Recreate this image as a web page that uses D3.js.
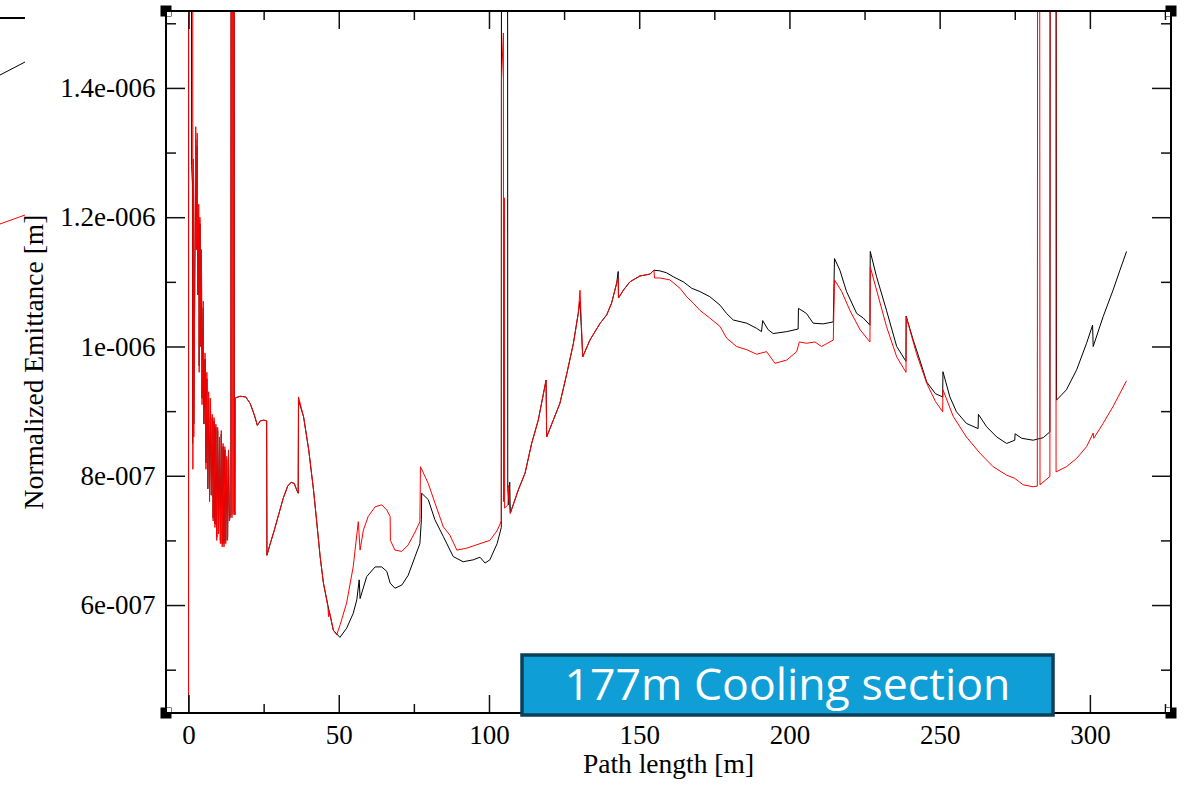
<!DOCTYPE html>
<html><head><meta charset="utf-8">
<script src="https://cdn.jsdelivr.net/npm/d3@7/dist/d3.min.js"></script>
<style>html,body{margin:0;padding:0;background:#fff}svg{display:block}</style>
</head><body><svg id="c" width="1191" height="786"></svg>
<script>
// ---------- data (y values in units of 1e-7 m) ----------
const xMajorTicks = [0, 50, 100, 150, 200, 250, 300];
const xMinorTicks = [25, 75, 125, 175, 225, 275, 325];
const yMajorTicks = [6, 8, 10, 12, 14];
const yTickLabels = ["6e-007", "8e-007", "1e-006", "1.2e-006", "1.4e-006"];
const yMinorTicks = [5, 7, 9, 11, 13, 15];
const xDomain = [-7.5, 327];
const yDomain = [4.33, 15.19];
const xTitle = "Path length [m]";
const yTitle = "Normalized Emittance [m]";
const annotation = "177m Cooling section";

const blackSeries = [
[0,4.0],[0.02,16],[1.0,16],[1.05,12.8],[1.3,12.5],[1.35,8.5],[1.6,12.6],[1.75,8.8],[2.4,13.2],[2.6,11.5],[2.9,13.1],[3.1,10.8],[3.4,12.0],[3.55,9.7],[3.8,11.9],[4.1,10.0],[4.3,11.4],[4.5,9.2],[4.9,10.6],[5.1,8.8],[5.5,9.8],[5.8,8.2],[6.1,9.5],[6.4,7.8],[6.7,9.2],[7.0,7.7],[7.3,9.1],[7.6,7.7],[7.9,8.9],[8.2,7.35],[8.5,8.85],[8.8,7.25],[9.1,8.75],[9.4,7.05],[9.7,8.7],[10.0,7.15],[10.3,8.55],[10.6,7.0],[10.9,8.65],[11.2,6.95],[11.5,8.45],[11.8,6.95],[12.1,8.4],[12.4,7.0],[12.7,8.25],[13.0,7.05],[13.3,8.35],[13.6,7.3],[13.9,7.4],[14.1,7.4],[14.15,16],[15.2,16],[15.25,7.45],[15.45,7.4],[15.5,9.2],
[17.1,9.23],[19.0,9.22],[20.5,9.12],[21.9,8.94],[22.9,8.78],[23.9,8.85],[25.0,8.86],[26.0,8.85],[26.1,6.77],[27.0,6.92],[28.5,7.15],[30.0,7.4],[31.5,7.65],[33.0,7.84],[34.2,7.9],[35.2,7.88],[36.0,7.78],[36.5,7.73],[36.6,9.17],[38.3,8.91],[40.0,8.40],[41.6,7.78],[42.7,7.27],[43.8,6.75],[44.9,6.34],[46.5,5.97],[48.2,5.61],[50.4,5.50],
[52.6,5.64],[54.8,5.87],[56.0,6.08],[56.8,6.39],[57.1,6.1],[59.3,6.44],[62.1,6.59],[64.3,6.59],[66.0,6.52],[67.1,6.34],[68.7,6.26],[71.0,6.31],[73.1,6.46],[75.4,6.75],[77.0,6.95],[77.5,7.32],[77.6,7.73],[79.8,7.63],[82.0,7.32],[84.8,7.06],[88.1,6.75],[91.4,6.67],[94.8,6.70],[97.0,6.74],[98.7,6.65],[100.3,6.7],[102.7,6.95],[104.1,7.2],
[104.15,16],[106.2,16],[106.25,7.8],[106.6,7.55],[106.9,7.9],[107.1,7.42],[109.75,7.78],[112.0,8.04],[114.2,8.5],[116.4,8.86],[119.0,9.48],[119.2,8.6],[121.4,8.86],[123.6,9.12],[125.9,9.58],[128.1,10.05],[129.7,10.51],[130.3,10.7],[131.2,9.84],[133.6,10.1],[137.0,10.36],[139.2,10.49],[140.8,10.67],[142.5,10.98],[143.0,11.16],[143.1,10.75],[144.7,10.87],[146.9,11.0],[150.2,11.09],[153.6,11.12],[154.9,11.18],
[156.9,11.17],[159.1,11.14],[161.3,11.08],[164.7,11.0],[167.5,10.9],[170.2,10.85],[173.5,10.77],[176.9,10.64],[179.1,10.51],[181.3,10.41],[185.8,10.36],[189.1,10.28],[190.7,10.23],[191.1,10.40],[192.9,10.26],[194.6,10.2],[199.1,10.23],[202.9,10.27],[203.0,10.59],[205.7,10.51],[207.9,10.36],[211.2,10.35],[214.6,10.38],
[215.0,11.36],[216.8,11.18],[219.0,10.85],[222.4,10.51],[224.6,10.44],[226.8,10.33],[226.9,11.47],[229.0,11.08],[232.3,10.56],[235.7,10.0],[238.8,9.77],[238.85,10.47],[241.2,10.1],[243.4,9.79],[245.7,9.45],[248.6,9.27],[251.0,9.22],[251.1,9.61],[253.4,9.22],[255.6,8.99],[258.9,8.81],[262.8,8.73],[262.9,8.95],[265.6,8.76],[269.0,8.6],[272.3,8.50],[275.0,8.55],[275.1,8.65],[277.3,8.58],[281.1,8.55],[284.5,8.59],[286.7,8.68],
[286.8,16],[288.8,16],[288.9,9.17],[292.2,9.33],[295.6,9.64],[298.9,10.05],[300.9,10.33],[301.1,10.0],[304.4,10.46],[307.7,10.87],[310.0,11.18],[312.2,11.47]
];

const redSeries = [
[0,4.6],[0.02,16],[1.4,16],[1.45,8.1],[1.6,12.9],[1.75,8.6],[2.4,13.4],[2.6,11.5],[2.9,13.3],[3.1,10.8],[3.4,12.2],[3.55,9.6],[3.8,12.0],[4.1,10.0],[4.3,11.5],[4.5,9.1],[4.9,10.7],[5.1,8.8],[5.5,9.9],[5.8,8.1],[6.1,9.6],[6.4,7.8],[6.7,9.3],[7.0,7.6],[7.3,9.2],[7.6,7.7],[7.9,8.95],[8.2,7.3],[8.5,8.9],[8.8,7.2],[9.1,8.8],[9.4,7.0],[9.7,8.75],[10.0,7.1],[10.3,8.6],[10.6,6.95],[10.9,8.7],[11.2,6.9],[11.5,8.5],[11.8,6.9],[12.1,8.45],[12.4,6.95],[12.7,8.3],[13.0,7.0],[13.3,8.4],[13.6,7.3],[13.9,7.4],[14.1,7.4],[14.15,16],[14.4,16],[14.45,7.35],[14.6,16],[14.8,16],[14.85,7.4],[15.0,16],[15.2,16],[15.25,7.45],[15.45,7.4],[15.5,9.2],
[17.1,9.23],[19.0,9.22],[20.5,9.12],[21.9,8.94],[22.9,8.78],[23.9,8.85],[25.0,8.86],[26.0,8.85],[26.1,6.77],[27.0,6.92],[28.5,7.15],[30.0,7.4],[31.5,7.65],[33.0,7.84],[34.2,7.9],[35.2,7.88],[36.0,7.78],[36.5,7.73],[36.6,9.22],[38.3,8.91],[40.0,8.40],[41.6,7.78],[42.7,7.27],[43.8,6.75],[44.9,6.34],[46.4,5.97],[46.6,5.82],[46.8,5.92],[48.2,5.61],[49.3,5.54],
[50.5,5.7],[52.6,6.03],[54.8,6.59],[56.5,7.29],[57.1,6.85],[58.2,7.16],[59.8,7.37],[62.1,7.52],[64.3,7.55],[66.0,7.47],[67.1,7.37],[67.2,7.0],[68.7,6.85],[71.0,6.83],[73.1,6.93],[75.4,7.13],[77.0,7.29],[77.2,8.14],[79.8,7.88],[82.0,7.58],[84.8,7.21],[87.0,7.08],[89.3,6.85],[92.6,6.88],[97.0,6.95],[100.3,7.0],[102.7,7.15],[104.1,7.3],
[104.15,14.1],[104.8,14.85],[104.85,7.6],[105.1,12.3],[105.2,7.5],[106.3,7.55],[106.6,7.85],[106.9,7.5],[107.1,7.42],[109.75,7.78],[112.0,8.04],[114.2,8.5],[116.4,8.86],[119.0,9.48],[119.2,8.6],[121.4,8.86],[123.6,9.12],[125.9,9.58],[128.1,10.05],[129.7,10.51],[130.3,10.87],[131.2,9.84],[133.6,10.1],[137.0,10.36],[139.2,10.49],[140.8,10.67],[142.5,10.98],[143.0,11.06],[143.1,10.75],[144.7,10.87],[146.9,11.0],[150.2,11.09],[153.6,11.12],[154.9,11.18],[155.1,11.06],
[156.9,11.06],[160.2,11.03],[163.6,10.9],[165.8,10.77],[168.0,10.67],[170.2,10.56],[173.5,10.44],[176.9,10.31],[179.1,10.13],[182.4,10.0],[185.8,9.95],[189.1,9.88],[192.4,9.92],[195.2,9.74],[199.1,9.79],[202.4,9.92],[203.3,10.07],[205.7,10.05],[208.5,10.07],[210.7,10.0],[214.6,10.1],
[215.0,11.03],[217.4,10.85],[220.1,10.56],[223.5,10.26],[226.8,10.07],[226.9,11.23],[229.6,10.77],[232.3,10.31],[235.7,9.84],[238.8,9.60],[238.85,10.46],[242.3,9.89],[245.7,9.43],[248.6,9.15],[251.0,8.99],[251.1,9.33],[254.5,8.92],[258.9,8.6],[263.4,8.35],[267.8,8.14],[272.3,8.01],[275.0,7.96],[277.8,7.86],[281.1,7.83],[282.5,7.84],
[282.6,16],[283.3,16],[283.4,7.86],[286.7,7.99],[286.75,16],[288.7,16],[288.75,8.06],[292.2,8.14],[295.6,8.27],[298.9,8.45],[301.1,8.66],[301.3,8.58],[304.4,8.81],[307.7,9.07],[312.2,9.47]
];

// ---------- layout ----------
const W = 1191, H = 786;
const L = 166, R = 1171, T = 11, B = 713;
const svg = d3.select("#c");
svg.append("rect").attr("width", W).attr("height", H).attr("fill", "#fff");

const x = d3.scaleLinear().domain(xDomain).range([L, R]);
const y = d3.scaleLinear().domain(yDomain).range([B, T]);

svg.append("defs").append("clipPath").attr("id", "plotclip")
  .append("rect").attr("x", L).attr("y", T).attr("width", R - L).attr("height", B - T);

const line = d3.line().x(d => x(d[0])).y(d => y(d[1]));
const gLines = svg.append("g").attr("clip-path", "url(#plotclip)");
gLines.append("path").datum(blackSeries).attr("d", line)
  .attr("fill", "none").attr("stroke", "#000").attr("stroke-width", 1).attr("stroke-linejoin", "miter");
gLines.append("path").datum(redSeries).attr("d", line)
  .attr("fill", "none").attr("stroke", "#ff0000").attr("stroke-width", 1).attr("stroke-linejoin", "miter");

// ---------- axes ----------
const serif = "'Liberation Serif','Times New Roman',serif";
function styleAxis(g) {
  g.select(".domain").remove();
  g.selectAll(".tick line").attr("stroke", "#111").attr("stroke-width", 1.5);
  g.selectAll("text").attr("font-family", serif).attr("font-size", 27).attr("fill", "#000");
}
// bottom
svg.append("g").attr("transform", `translate(0,${B})`)
  .call(d3.axisBottom(x).tickValues(xMajorTicks).tickSize(-18).tickPadding(12).tickFormat(d3.format("d")))
  .call(styleAxis);
svg.append("g").attr("transform", `translate(0,${B})`)
  .call(d3.axisBottom(x).tickValues(xMinorTicks).tickSize(-9).tickFormat(""))
  .call(styleAxis);
// top
svg.append("g").attr("transform", `translate(0,${T})`)
  .call(d3.axisTop(x).tickValues(xMajorTicks).tickSize(-18).tickFormat(""))
  .call(styleAxis);
svg.append("g").attr("transform", `translate(0,${T})`)
  .call(d3.axisTop(x).tickValues(xMinorTicks).tickSize(-9).tickFormat(""))
  .call(styleAxis);
// left
svg.append("g").attr("transform", `translate(${L},0)`)
  .call(d3.axisLeft(y).tickValues(yMajorTicks).tickSize(-19).tickPadding(10.5)
    .tickFormat((d, i) => yTickLabels[i]))
  .call(styleAxis);
svg.append("g").attr("transform", `translate(${L},0)`)
  .call(d3.axisLeft(y).tickValues(yMinorTicks).tickSize(-10).tickFormat(""))
  .call(styleAxis);
// right
svg.append("g").attr("transform", `translate(${R},0)`)
  .call(d3.axisRight(y).tickValues(yMajorTicks).tickSize(-19).tickFormat(""))
  .call(styleAxis);
svg.append("g").attr("transform", `translate(${R},0)`)
  .call(d3.axisRight(y).tickValues(yMinorTicks).tickSize(-10).tickFormat(""))
  .call(styleAxis);

// frame
svg.append("rect").attr("x", L).attr("y", T).attr("width", R - L).attr("height", B - T)
  .attr("fill", "none").attr("stroke", "#000").attr("stroke-width", 2);

// corner handles
[[L, T, 1, 1], [R, T, -1, 1], [L, B, 1, -1], [R, B, -1, -1]].forEach(([cx, cy, sx, sy]) => {
  svg.append("rect").attr("x", cx - 5.5).attr("y", cy - 5.5).attr("width", 11).attr("height", 11).attr("fill", "#000");
  svg.append("rect").attr("x", sx > 0 ? cx + 1 : cx - 5).attr("y", sy > 0 ? cy + 1 : cy - 5)
    .attr("width", 4).attr("height", 4).attr("fill", "#fff");
});

// titles
svg.append("text").attr("x", (L + R) / 2).attr("y", 773).attr("text-anchor", "middle")
  .attr("font-family", serif).attr("font-size", 27.5).text(xTitle);
svg.append("text").attr("transform", `translate(43,${(T + B) / 2}) rotate(-90)`).attr("text-anchor", "middle")
  .attr("font-family", serif).attr("font-size", 27.5).text(yTitle);

// fragments of a neighbouring legend at the left edge (decoration)
const frag = svg.append("g");
frag.append("line").attr("x1", 0).attr("y1", 18).attr("x2", 25).attr("y2", 18).attr("stroke", "#000").attr("stroke-width", 2);
frag.append("line").attr("x1", 0).attr("y1", 75).attr("x2", 25).attr("y2", 62).attr("stroke", "#000").attr("stroke-width", 1);
frag.append("line").attr("x1", 0).attr("y1", 224).attr("x2", 25).attr("y2", 215).attr("stroke", "#ff0000").attr("stroke-width", 1);

// annotation box
const bx = 522, by = 655, bw = 531, bh = 60;
svg.append("rect").attr("x", bx).attr("y", by).attr("width", bw).attr("height", bh)
  .attr("fill", "#0F9ED5").attr("stroke", "#0c4058").attr("stroke-width", 3.5);
const at = svg.append("text").attr("x", bx + bw / 2).attr("y", 700).attr("text-anchor", "middle")
  .attr("font-family", "'Open Sans','Noto Sans',sans-serif").attr("font-size", 40).attr("fill", "#fff").text(annotation);
const wNat = at.node().getComputedTextLength();
if (wNat > 0) at.attr("font-size", 40 * 446 / wNat);
</script></body></html>
